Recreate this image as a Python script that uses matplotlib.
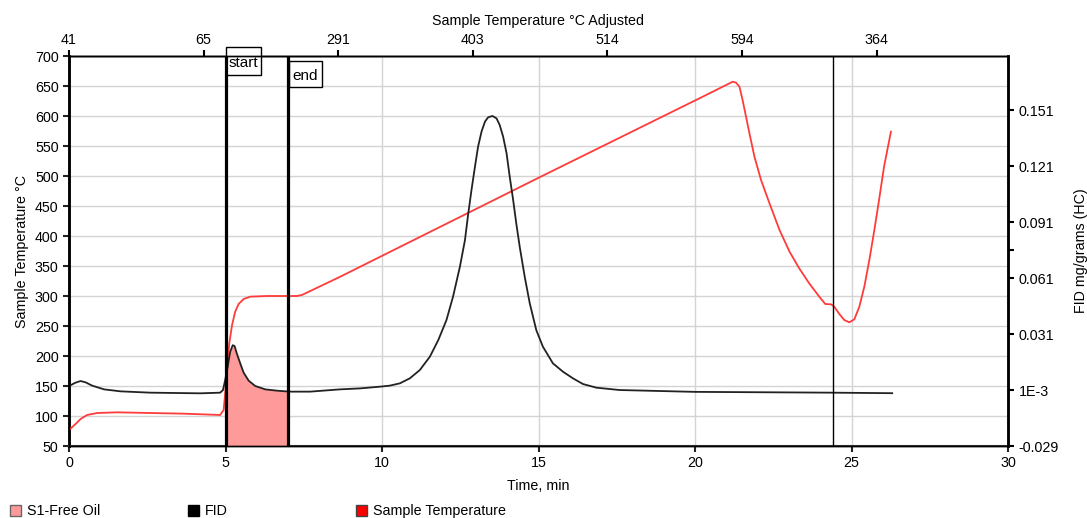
import numpy as np
import matplotlib
matplotlib.use("Agg")
import matplotlib.pyplot as plt
import matplotlib.transforms as mtransforms
from matplotlib.patches import Rectangle

plt.rcParams["font.family"] = ["Liberation Sans", "DejaVu Sans"]
plt.rcParams["font.size"] = 10.3

# sample temperature, deg C (left axis)
temp_time = [0, 0.21, 0.37, 0.58, 0.9, 1.54, 2.6, 3.66, 4.83, 4.94, 4.99, 5.05, 5.12,
             5.21, 5.31, 5.42, 5.58, 5.79, 6.32, 7.28, 7.44, 7.6, 8.66, 15.0, 20.14,
             21.1, 21.21, 21.31, 21.42, 21.52, 21.63, 21.74, 21.9, 22.11, 22.38, 22.7,
             23.02, 23.33, 23.65, 23.97, 24.16, 24.35, 24.45, 24.61, 24.77, 24.93, 25.09,
             25.25, 25.41, 25.57, 25.73, 25.88, 26.04, 26.26]
temp = [76.7, 86.7, 95, 101.7, 105, 106.1, 105, 103.9, 101.7, 110, 137.8, 176.7, 221,
        251.7, 274, 286.7, 295, 298.9, 300, 300, 301.7, 305.6, 332, 497, 629.4,
        654.4, 657.2, 655.6, 648.9, 626.7, 598.9, 571, 532, 493.3, 454.4, 410,
        373.9, 346, 321, 298.9, 286.7, 286.1, 282.2, 270, 260, 256.1, 261.1,
        282.2, 315.6, 360, 410, 460, 515.6, 573.9]

# FID signal, mg/grams (HC) (right axis)
fid_time = [0, 0.21, 0.37, 0.53, 0.74, 1.12, 1.65, 2.6, 4.2, 4.83, 4.92, 4.99, 5.07,
            5.15, 5.23, 5.29, 5.36, 5.47, 5.58, 5.74, 5.95, 6.27, 6.64, 7.04, 7.7,
            8.66, 9.3, 9.94, 10.25, 10.57, 10.89, 11.21, 11.53, 11.8, 12.06, 12.27,
            12.49, 12.65, 12.75, 12.86, 12.97, 13.07, 13.18, 13.29, 13.39, 13.53, 13.66,
            13.76, 13.87, 13.98, 14.08, 14.19, 14.29, 14.4, 14.56, 14.72, 14.93, 15.14,
            15.46, 15.78, 16.1, 16.42, 16.85, 17.59, 20.0, 24.4, 26.3]
fid = [0.00314, 0.00494, 0.00581, 0.0051, 0.00334, 0.00134, 0.00028, -0.00043,
       -0.00078, -0.00043, 0.00099, 0.00636, 0.01343, 0.02146, 0.0250, 0.02458,
       0.02063, 0.01529, 0.01028, 0.0060, 0.00314, 0.00134, 0.00064, 0.00012,
       0.00012, 0.00134, 0.00186, 0.00279, 0.00334, 0.00456, 0.00726, 0.01172,
       0.01886, 0.0278, 0.0385, 0.05104, 0.06711, 0.08125, 0.09475, 0.10825,
       0.12066, 0.13139, 0.13943, 0.14477, 0.14708, 0.14779, 0.1465, 0.14297,
       0.13673, 0.12779, 0.11532, 0.10279, 0.09025, 0.07771, 0.06164, 0.0475,
       0.03304, 0.02423, 0.01529, 0.01083, 0.00726, 0.0042, 0.00224, 0.00099,
       0.0, -0.00043, -0.00071]

s1_start, s1_end = 5.0, 7.0
marker_time = 24.4

top_ticks = [0, 4.3, 8.6, 12.9, 17.2, 21.5, 25.8]
top_labels = ["41", "65", "291", "403", "514", "594", "364"]

right_ticks = [-0.029, 0.001, 0.031, 0.061, 0.091, 0.121, 0.151]
right_labels = ["-0.029", "1E-3", "0.031", "0.061", "0.091", "0.121", "0.151"]

W, H = 1087, 518
fig = plt.figure(figsize=(W / 100, H / 100), dpi=100)
ax = fig.add_axes([69 / W, 1 - 446 / H, (1008 - 69) / W, (446 - 56) / H])
ax2 = ax.twinx()
ax3 = ax.twiny()

ax.set_xlim(0, 30)
ax.set_ylim(50, 700)
ax.set_xticks([0, 5, 10, 15, 20, 25, 30])
ax.set_yticks(np.arange(50, 701, 50))
ax.grid(True, color="#d4d4d4", lw=1)
ax.set_axisbelow(True)
ax.set_xlabel("Time, min", labelpad=6)
ax.set_ylabel("Sample Temperature °C", labelpad=4)
ax.tick_params(axis="both", direction="out", length=4.5, width=1.5, colors="#222",
               labelcolor="black", pad=3)

ax2.set_ylim(-0.029, -0.029 + 390 / 56 * 0.03)
ax2.set_yticks(right_ticks)
ax2.set_yticklabels(right_labels)
ax2.set_yticks([0.076], minor=True)
ax2.tick_params(axis="y", which="both", direction="out", length=4.5, width=1.5, pad=3)
ax2.set_ylabel("FID mg/grams (HC)", labelpad=11)

ax3.set_xlim(0, 30)
ax3.set_xticks(top_ticks)
ax3.set_xticklabels(top_labels)
ax3.tick_params(axis="x", direction="out", length=4.5, width=1.5, pad=2)
ax3.set_xlabel("Sample Temperature °C Adjusted", labelpad=6)

for a in (ax, ax2, ax3):
    for side in ("top", "bottom", "left", "right"):
        a.spines[side].set_color("black")
        a.spines[side].set_linewidth(1)
ax.spines["left"].set_linewidth(2)
ax2.spines["right"].set_linewidth(2)
ax.spines["bottom"].set_linewidth(1.5)
ax.spines["bottom"].set_color("#444")

# S1 area under FID between start and end
mask = [(t > s1_start) and (t < s1_end) for t in fid_time]
xs = [s1_start] + [t for t, m in zip(fid_time, mask) if m] + [s1_end]
ys = ([np.interp(s1_start, fid_time, fid)] + [v for v, m in zip(fid, mask) if m]
      + [np.interp(s1_end, fid_time, fid)])
ax2.fill_between(xs, -0.029, ys, color="#ff9a9a", lw=0, zorder=1)

ax2.plot(temp_time, temp, color="#ff3b3b", lw=1.3, zorder=3, transform=ax.transData)
ax2.plot(fid_time, fid, color="#222222", lw=1.3, zorder=4)

ax2.axvline(s1_start, color="black", lw=2.3, zorder=5)
ax2.axvline(s1_end, color="black", lw=2.3, zorder=5)
ax2.axvline(marker_time, color="black", lw=1, zorder=5)

# start / end flags: x in minutes, y in axes fraction
blend = mtransforms.blended_transform_factory(ax.transData, ax.transAxes)
flags = [(s1_start, "start", 1.15, 1 + 9 / 390, 28 / 390),
         (s1_end + 0.03, "end", 1.05, 1 - 5 / 390, 26 / 390)]
for x0, label, w, ytop, h in flags:
    ax.add_patch(Rectangle((x0, ytop - h), w, h, transform=blend, fc="white", ec="black",
                           lw=1, clip_on=False, zorder=6))
    ax.text(x0 + 0.1, ytop - h / 2 - 2 / 390, label, transform=blend, ha="left", va="center",
            fontsize=11, clip_on=False, zorder=7)
ax.set_zorder(0)
ax2.set_zorder(1)
ax3.set_zorder(2)

# legend row along the bottom
legend_items = [(10, "#ff9a9a", "#666666", "S1-Free Oil"),
                (188, "#000000", "#000000", "FID"),
                (356, "#ff0000", "#444444", "Sample Temperature")]
for x, fc, ec, label in legend_items:
    fig.patches.append(Rectangle((x / W, 1 - 516 / H), 11 / W, 11 / H, transform=fig.transFigure,
                                 fc=fc, ec=ec, lw=1))
    fig.text((x + 17) / W, 1 - 511 / H, label, va="center", ha="left")

fig.savefig("out.png", dpi=100)
